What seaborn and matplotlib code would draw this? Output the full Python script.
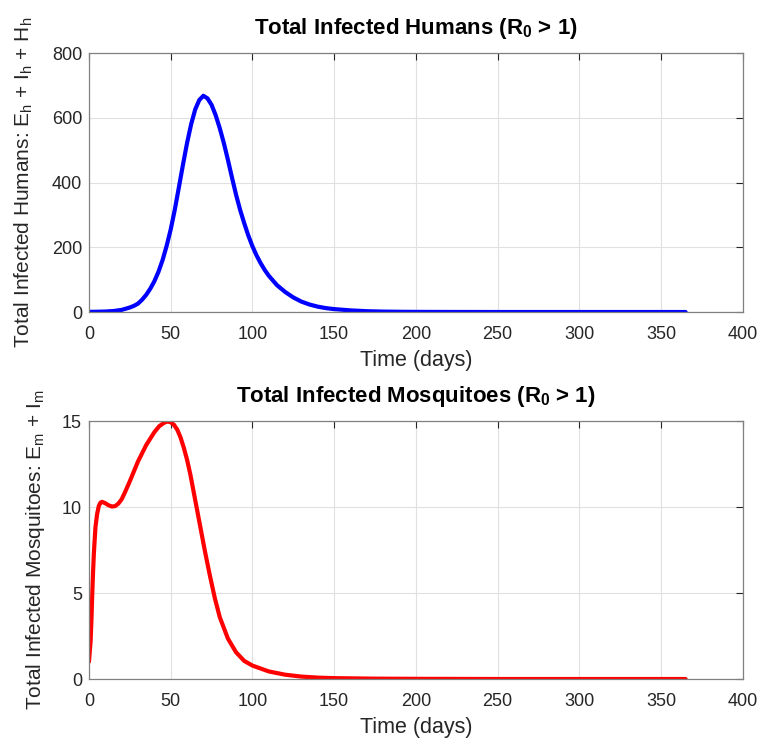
import matplotlib
matplotlib.use("Agg")
import matplotlib.pyplot as plt
import pandas as pd
import seaborn as sns

# Values
human_t = [0, 5, 10, 15, 20, 25, 27.5, 30, 32.5, 35, 37.5, 40, 42.5, 45, 47.5,
           50, 52.5, 55, 57.5, 60, 62.5, 65, 67.5, 70, 72.5, 75, 77.5, 80,
           82.5, 85, 87.5, 90, 92.5, 95, 97.5, 100, 102.5, 105, 107.5, 110,
           115, 120, 125, 130, 135, 140, 145, 150, 160, 170, 180, 190, 200,
           225, 250, 300, 365]
human_total = [0.5, 0.8, 1.5, 3, 6.5, 14, 19, 26, 38, 53, 72, 95, 124, 160,
               204, 255, 316, 385, 455, 522, 580, 626, 655, 668, 660, 640, 608,
               568, 522, 470, 415, 362, 315, 274, 236, 203, 175, 151, 130, 112,
               83, 62, 45, 32, 23, 16.5, 12, 9, 5, 2.5, 1.3, 0.7, 0.4, 0.1, 0,
               0, 0]

mosq_t = [0, 1, 1.5, 2, 2.5, 3, 3.5, 4, 5, 6, 7, 8, 10, 12, 14, 16, 18, 20,
          22, 25, 30, 35, 40, 43, 46, 48, 50, 52, 54, 56, 58, 60, 62, 65, 68,
          71, 74, 77, 80, 85, 90, 95, 100, 110, 120, 130, 140, 150, 175, 200,
          250, 300, 365]
mosq_total = [1.0, 2.2, 3.4, 4.9, 6.2, 7.3, 8.1, 8.85, 9.6, 10.05, 10.25,
              10.3, 10.22, 10.1, 10.03, 10.05, 10.2, 10.45, 10.85, 11.5, 12.65,
              13.6, 14.35, 14.7, 14.9, 14.97, 14.93, 14.78, 14.5, 14.05, 13.45,
              12.75, 11.9, 10.4, 8.9, 7.4, 6.0, 4.7, 3.6, 2.35, 1.55, 1.05,
              0.78, 0.44, 0.25, 0.14, 0.08, 0.05, 0.02, 0.01, 0, 0, 0]

human_ticks = [0, 200, 400, 600, 800]
mosq_ticks = [0, 5, 10, 15]
time_ticks = [0, 50, 100, 150, 200, 250, 300, 350, 400]

sns.set_style("white")
plt.rcParams["font.family"] = ["Liberation Sans", "DejaVu Sans"]
plt.rcParams["mathtext.fontset"] = "custom"
plt.rcParams["mathtext.rm"] = "Liberation Sans"
plt.rcParams["mathtext.bf"] = "Liberation Sans:bold"

text_color = "#262626"
edge_color = "#808080"

df_h = pd.DataFrame({"t": human_t, "v": human_total})
df_m = pd.DataFrame({"t": mosq_t, "v": mosq_total})

fig = plt.figure(figsize=(7.63, 7.42), dpi=100)
ax1 = fig.add_axes([0.1166, 0.5795, 0.857, 0.349])
ax2 = fig.add_axes([0.1166, 0.0849, 0.857, 0.3477])


def style_axes(ax, yticks, ymax):
    ax.set_xlim(0, 400)
    ax.set_ylim(0, ymax)
    ax.set_xticks(time_ticks)
    ax.set_yticks(yticks)
    ax.grid(True, color="#e0e0e0", linewidth=0.8)
    ax.tick_params(direction="in", length=5, width=0.8, colors=text_color,
                   labelsize=13, top=True, right=True)
    ax.tick_params(axis="x", pad=10)
    ax.tick_params(axis="y", pad=5)
    for s in ax.spines.values():
        s.set_color(edge_color)
        s.set_linewidth(0.9)
        s.set_visible(True)
    ax.set_xlabel("Time (days)", fontsize=15.5, color=text_color, labelpad=5)


sns.lineplot(data=df_h, x="t", y="v", ax=ax1, color="#0000ff", linewidth=3)
style_axes(ax1, human_ticks, 800)
ax1.set_title(r"Total Infected Humans (R$_\mathbf{0}$ > 1)", fontsize=16,
              fontweight="bold", color="black", pad=14)
ax1.set_ylabel(r"Total Infected Humans: E$_\mathregular{h}$ + I$_\mathregular{h}$ + H$_\mathregular{h}$",
               fontsize=15, color=text_color, labelpad=12)

sns.lineplot(data=df_m, x="t", y="v", ax=ax2, color="#ff0000", linewidth=3)
style_axes(ax2, mosq_ticks, 15)
ax2.set_title(r"Total Infected Mosquitoes (R$_\mathbf{0}$ > 1)", fontsize=16,
              fontweight="bold", color="black", pad=14)
ax2.set_ylabel(r"Total Infected Mosquitoes: E$_\mathregular{m}$ + I$_\mathregular{m}$",
               fontsize=15, color=text_color, labelpad=11)

fig.savefig("out.png", dpi=100)
